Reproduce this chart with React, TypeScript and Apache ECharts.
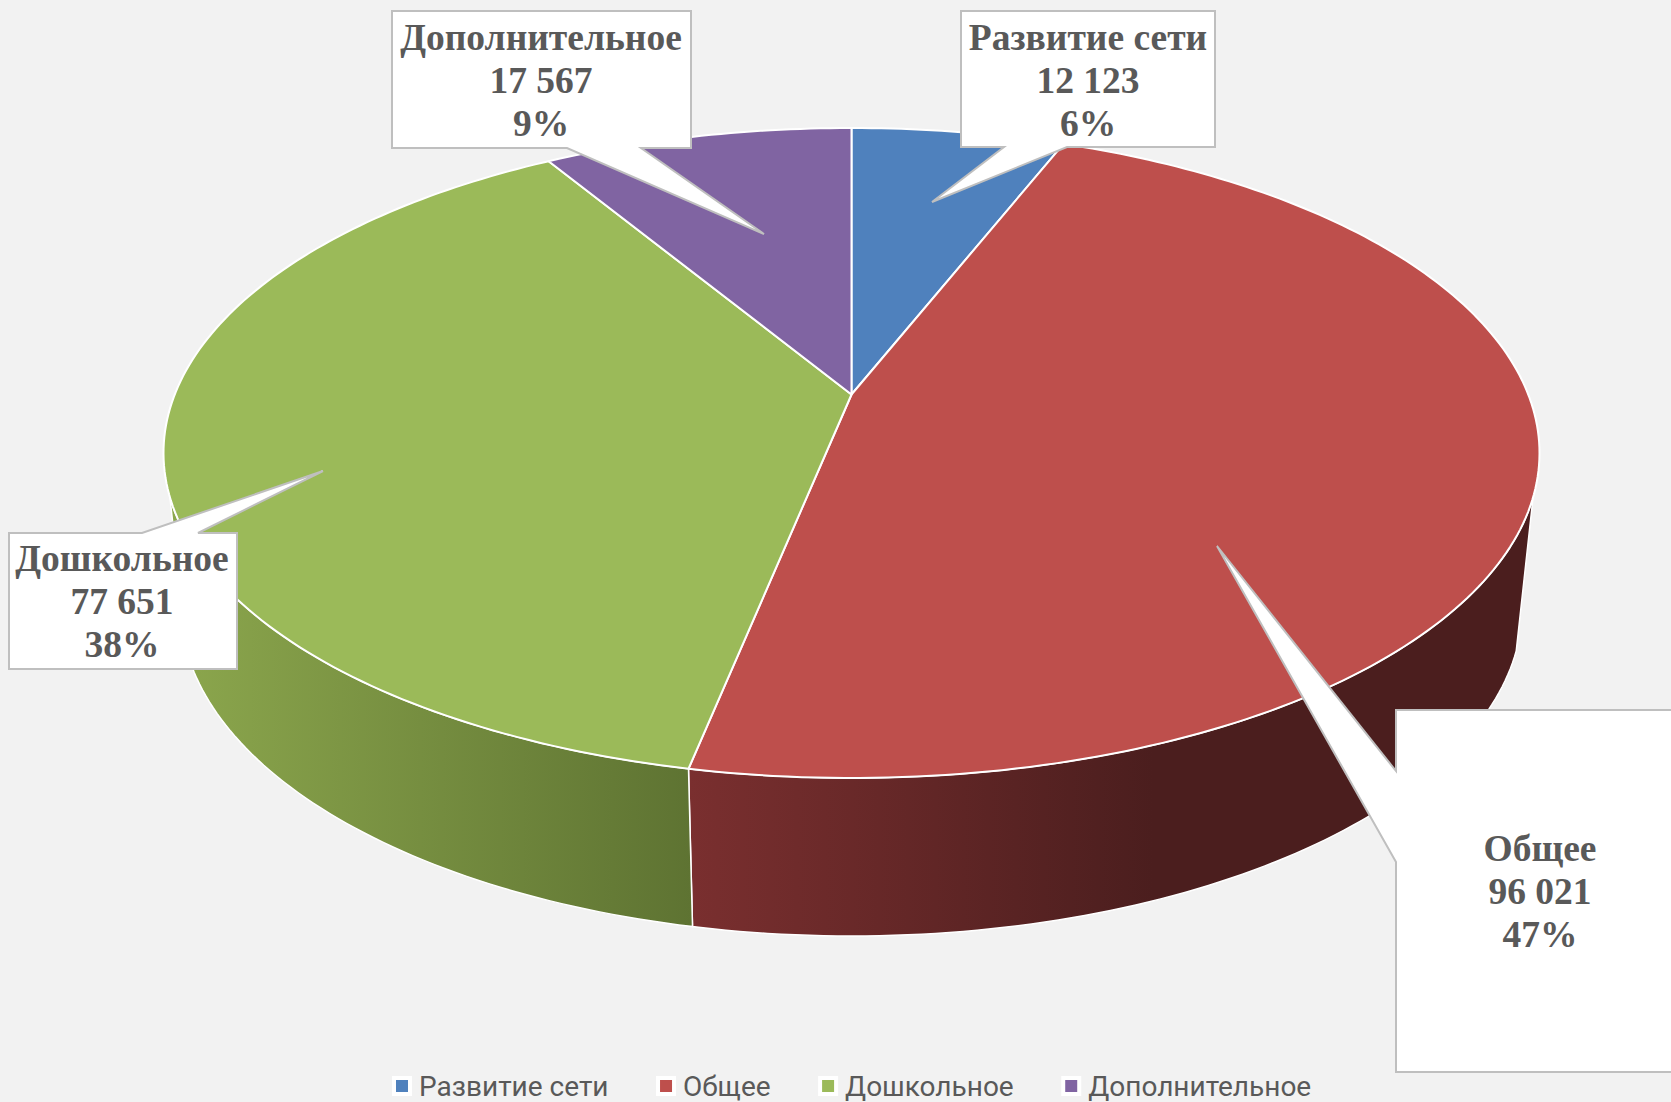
import React, { useEffect, useRef } from "react";
import * as echarts from "echarts";

const NAMES = ["Развитие сети", "Общее", "Дошкольное", "Дополнительное"];
const VALUES = [12123, 96021, 77651, 17567];
const COLORS = ["#4F81BD", "#BE4F4C", "#9BBA59", "#8064A2"];
const WALL_STOPS: (null | [number, string][])[] = [
  null,
  [[0, "#7A2F2F"], [0.55, "#4B1E1E"], [1, "#4B1E1E"]],
  [[0, "#8CA74D"], [1, "#5E7332"]],
  null,
];

// Perspective projection of the pie
const TOP = { cx: 851.5, cy: 453, rx: 688, ry: 325 };
const BOTTOM = { cx: 851.5, cy: 606, rx: 671, ry: 330 };
const SHIFT = 0.18;
const WALL_FROM = 108;
const WALL_TO = 252;

// Callout boxes (outline with pointer, and centre of the text)
const CALLOUTS: { points: number[][]; text: number[] }[] = [
  { points: [[961, 11], [1215, 11], [1215, 147], [1067, 147], [932, 202], [1004, 147], [961, 147]], text: [1088, 80] },
  { points: [[1396, 710], [1675, 710], [1675, 1072], [1396, 1072], [1396, 862], [1217, 546], [1396, 771]], text: [1540, 891] },
  { points: [[9, 533], [142, 533], [323, 471], [198, 533], [237, 533], [237, 669], [9, 669]], text: [122, 601] },
  { points: [[392, 11], [691, 11], [691, 148], [641, 148], [764, 234], [567, 148], [392, 148]], text: [541, 80] },
];

const TOTAL = VALUES.reduce((a, b) => a + b, 0);
const fmt = (v: number) => String(v).replace(/\B(?=(\d{3})+$)/g, " ");

function project(deg: number, e: typeof TOP) {
  const t = (deg * Math.PI) / 180;
  const x = Math.sin(t);
  const y = Math.cos(t);
  const d = 1 + SHIFT * y;
  return [e.cx + (e.rx * x * Math.sqrt(1 - SHIFT * SHIFT)) / d, e.cy - (e.ry * (y + SHIFT)) / d];
}

function arc(from: number, to: number, e: typeof TOP) {
  const pts: number[][] = [];
  for (let a = from; a < to; a += 1) pts.push(project(a, e));
  pts.push(project(to, e));
  return pts;
}

function renderSlice(params: any, api: any) {
  const i = params.seriesIndex;
  const before = VALUES.slice(0, i).reduce((a, b) => a + b, 0);
  const start = (before / TOTAL) * 360;
  const end = ((before + api.value(0)) / TOTAL) * 360;
  const children: any[] = [];
  const stops = WALL_STOPS[i];
  const from = Math.max(start, WALL_FROM);
  const to = Math.min(end, WALL_TO);
  if (stops && from < to) {
    children.push({
      type: "polygon",
      shape: { points: [...arc(from, to, TOP), ...arc(from, to, BOTTOM).reverse()] },
      style: {
        fill: new echarts.graphic.LinearGradient(0, 0, 1, 0, stops.map(([offset, color]) => ({ offset, color }))),
        stroke: "#ffffff",
        lineWidth: 1.5,
      },
    });
  }
  children.push({
    type: "polygon",
    shape: { points: [[TOP.cx, TOP.cy - TOP.ry * SHIFT], ...arc(start, end, TOP)] },
    style: { fill: COLORS[i], stroke: "#ffffff", lineWidth: 2, lineJoin: "round" },
  });
  return { type: "group", children };
}

export default function App() {
  const ref = useRef<HTMLDivElement>(null);
  useEffect(() => {
    const chart = echarts.init(ref.current!, undefined, { renderer: "svg" });
    const graphics: any[] = [];
    CALLOUTS.forEach((c, i) => {
      graphics.push({
        type: "polygon",
        z: 100,
        silent: true,
        shape: { points: c.points },
        style: { fill: "#ffffff", stroke: "#BFBFBF", lineWidth: 2 },
      });
      graphics.push({
        type: "text",
        z: 101,
        silent: true,
        x: c.text[0],
        y: c.text[1],
        style: {
          text: `${NAMES[i]}\n${fmt(VALUES[i])}\n${Math.round((VALUES[i] / TOTAL) * 100)}%`,
          font: 'bold 37.5px "Liberation Serif"',
          lineHeight: 43,
          fill: "#595959",
          align: "center",
          verticalAlign: "middle",
        },
      });
    });
    chart.setOption({
      animation: false,
      backgroundColor: "#F2F2F2",
      legend: {
        data: NAMES,
        left: 387,
        top: 1067,
        itemWidth: 16,
        itemHeight: 16,
        itemGap: 47.5,
        icon: "rect",
        itemStyle: { borderColor: "#ffffff", borderWidth: 4 },
        textStyle: { color: "#595959", fontSize: 28, fontFamily: "Roboto", padding: [0, 0, 0, 4] },
      },
      series: NAMES.map((name, i) => ({
        type: "custom",
        name,
        coordinateSystem: "none",
        color: COLORS[i],
        itemStyle: { color: COLORS[i] },
        silent: true,
        renderItem: renderSlice,
        data: [[VALUES[i]]],
      })),
      graphic: { elements: graphics },
    });
    return () => chart.dispose();
  }, []);
  return <div ref={ref} style={{ position: "fixed", left: 0, top: 0, width: 1671, height: 1102 }} />;
}
